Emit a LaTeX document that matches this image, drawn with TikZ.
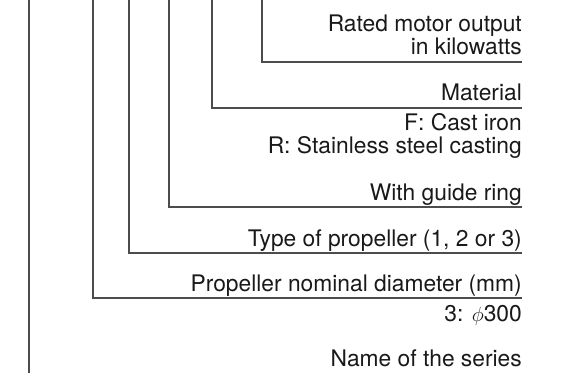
\documentclass[tikz,border=0pt]{standalone}
\usepackage{fontspec}
\setmainfont{TeX Gyre Heros}
\usetikzlibrary{positioning}
\tikzstyle{lead} = [draw=black!70, line width=1.1bp]

\begin{document}
\begin{tikzpicture}[x=1bp, y=-1bp,
            code/.style={anchor=base east, inner sep=0pt, align=right, text=black!90,
                font=\fontsize{22.8bp}{23bp}\selectfont}
        ]
    \useasboundingbox (0,0) rectangle (563,373);
    \coordinate (kwtop) at (262,0);
    \coordinate (kwend) at (522,62);
    \coordinate (mattop) at (212,0);
    \coordinate (matend) at (522,108);
    \coordinate (guidetop) at (169,0);
    \coordinate (guideend) at (522,207);
    \coordinate (typetop) at (129,0);
    \coordinate (typeend) at (522,253);
    \coordinate (diatop) at (93,0);
    \coordinate (diaend) at (522,298);
    \coordinate (seriestop) at (29,0);
    \coordinate (seriesend) at (29,373);
    \draw[lead] (kwtop) |- (kwend);
    \draw[lead] (mattop) |- (matend);
    \draw[lead] (guidetop) |- (guideend);
    \draw[lead] (typetop) |- (typeend);
    \draw[lead] (diatop) |- (diaend);
    \draw[lead] (seriestop) -- (seriesend);
    \node[code] (kw) at ([yshift=7.5bp]kwend) {Rated motor output\\in kilowatts};
    \node[code] (material) at ([yshift=7.3bp]matend) {Material};
    \node[code] (matcode) at ([yshift=-45bp]matend) {F: Cast iron\\R: Stainless steel casting};
    \node[code] (guide) at ([yshift=7bp]guideend) {With guide ring};
    \node[code] (type) at ([yshift=7bp]typeend) {Type of propeller (1, 2 or 3)};
    \node[code] (dia) at ([yshift=6.5bp]diaend) {Propeller nominal diameter (mm)};
    \node[code] (diacode) at ([yshift=-23bp]diaend) {3: {\fontsize{20bp}{20bp}\selectfont$\phi$}300};
    \node[code] (series) at ([yshift=-68bp]diaend) {Name of the series};
\end{tikzpicture}
\end{document}
